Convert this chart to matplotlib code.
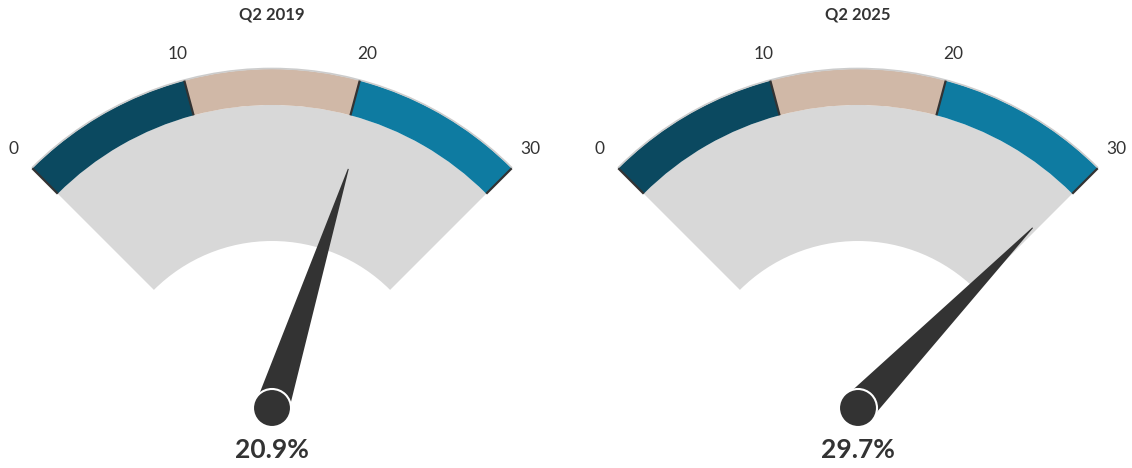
import numpy as np
import matplotlib
matplotlib.use('Agg')
import matplotlib.pyplot as plt
from matplotlib.patches import Wedge, Arc, Circle, Polygon

plt.rcParams['font.family'] = ['Lato', 'DejaVu Sans']

# data
titles = ['Q2 2019', 'Q2 2025']
values = [20.9, 29.7]
band_from = [0, 10, 20]
band_to = [10, 20, 30]
band_colors = ['#0b4960', '#d0b8a7', '#0e7ba1']
tick_values = [0, 10, 20, 30]
gauge_min, gauge_max = 0, 30

W, H = 1132, 468
fig = plt.figure(figsize=(W / 100, H / 100), dpi=100)
ax = fig.add_axes([0, 0, 1, 1])
ax.set_xlim(0, W)
ax.set_ylim(0, H)
ax.set_aspect('equal')
ax.axis('off')

centers = [(272, 60), (858, 60)]
r_band_out, r_band_in = 339, 303
r_pane_in = 167
r_label = 366
r_needle = 251
needle_half = 17
pivot_r = 19
text_col = '#333333'


def ang(v):
    # value -> degrees, 0 at left (135deg), 30 at right (45deg)
    return 135 - (v - gauge_min) / (gauge_max - gauge_min) * 90


for (cx, cy), title, val in zip(centers, titles, values):
    # pane background
    ax.add_patch(Wedge((cx, cy), r_band_in, 45, 135, width=r_band_in - r_pane_in,
                       facecolor='#d8d8d8', edgecolor='none'))
    # colour bands
    for f, t, c in zip(band_from, band_to, band_colors):
        ax.add_patch(Wedge((cx, cy), r_band_out, ang(t), ang(f), width=r_band_out - r_band_in,
                           facecolor=c, edgecolor='none'))
    # thin outer outline
    ax.add_patch(Arc((cx, cy), 2 * r_band_out + 1, 2 * r_band_out + 1, theta1=45, theta2=135,
                     color='#cccccc', lw=1.2))
    # tick lines and labels
    for tv in tick_values:
        a = np.radians(ang(tv))
        ax.plot([cx + r_band_in * np.cos(a), cx + r_band_out * np.cos(a)],
                [cy + r_band_in * np.sin(a), cy + r_band_out * np.sin(a)],
                color='#333333', lw=1.6, solid_capstyle='butt')
        ax.text(cx + r_label * np.cos(a), cy + r_label * np.sin(a), str(tv),
                ha='center', va='center', fontsize=12.5, color=text_col)
    # needle
    a = np.radians(ang(val))
    ux, uy = np.cos(a), np.sin(a)
    px, py = -uy, ux
    pts = [(cx + px * needle_half, cy + py * needle_half),
           (cx + ux * r_needle + px * 0.5, cy + uy * r_needle + py * 0.5),
           (cx + ux * r_needle - px * 0.5, cy + uy * r_needle - py * 0.5),
           (cx - px * needle_half, cy - py * needle_half)]
    ax.add_patch(Polygon(pts, closed=True, facecolor='#333333', edgecolor='none'))
    ax.add_patch(Circle((cx, cy), pivot_r, facecolor='#333333', edgecolor='white', lw=1.5))

    ax.text(cx, H - 15, title, ha='center', va='center', fontsize=12,
            fontweight='bold', color=text_col)
    ax.text(cx, 18, f'{val}%', ha='center', va='center', fontsize=19,
            fontweight='bold', color=text_col)

fig.savefig('out.png', dpi=100, facecolor='white')
